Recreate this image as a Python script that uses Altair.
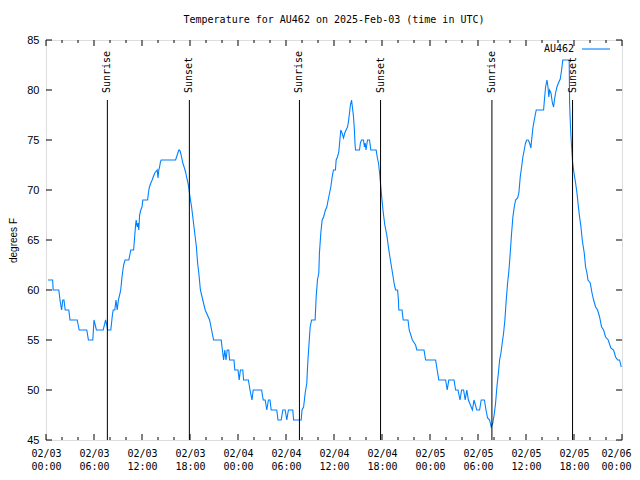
import altair as alt
import pandas as pd

title_text = "Temperature for AU462 on 2025-Feb-03 (time in UTC)"
series_name = "AU462"
y_title = "degrees F"

# hours since 02/03 00:00 UTC and temperature (deg F)
hours = [0.25, 0.83, 0.9, 1.6, 1.75, 1.95, 2.1, 2.25, 2.4, 2.85, 3.0, 3.9, 4.15, 5.1, 5.3, 5.85, 6.0, 6.15, 6.3, 7.15,
         7.45, 7.6, 7.7, 8.1, 8.3, 8.4, 8.6, 8.75, 8.9, 9.05, 9.2, 9.34, 9.5, 9.7, 9.88, 10.35, 10.6, 10.95, 11.1, 11.2,
         11.27, 11.4, 11.5, 11.6, 11.7, 11.85, 12.0, 12.1, 12.7, 12.8, 12.9, 13.1, 13.27, 13.4, 13.6, 13.9, 14.0, 14.1,
         14.2, 14.3, 14.4, 16.2, 16.4, 16.6, 16.7, 16.8, 16.95, 17.1, 17.3, 17.45, 17.6, 17.75, 17.85, 18.0, 18.2, 18.35,
         18.5, 18.65, 18.8, 18.95, 19.1, 19.3, 19.6, 19.9, 20.45, 20.7, 20.95, 21.9, 22.05, 22.2, 22.35, 22.5, 22.65,
         22.85, 22.95, 23.5, 23.6, 24.0, 24.15, 24.3, 24.6, 24.7, 25.3, 25.5, 25.75, 25.9, 26.95, 27.15, 27.4, 27.6,
         27.8, 28.0, 28.15, 28.85, 29.0, 29.4, 29.6, 29.9, 30.1, 30.3, 30.85, 30.95, 31.9,
         32.0, 32.2, 32.4, 32.6, 32.72, 32.85, 33.02, 33.2, 33.64, 33.77, 33.93, 34.1, 34.18, 34.35, 34.52, 34.7, 34.93,
         35.1, 35.27, 35.45, 35.6, 35.77, 35.93, 36.18, 36.27, 36.43, 36.6, 36.7, 36.85, 37.0, 37.19, 37.35, 37.5,
         37.69, 37.8, 37.94, 38.05, 38.19, 38.3, 38.44, 38.55, 38.62, 38.69, 39.19, 39.3, 39.44, 39.69, 39.8, 39.9,
         40.0, 40.19, 40.44, 40.6, 41.27, 41.4, 41.56, 41.7, 41.85, 42.0, 42.15, 42.35, 42.6, 42.8, 42.95, 43.15,
         43.35, 43.55, 43.7, 43.95, 44.05, 44.1, 44.5, 44.65, 45.25, 45.4, 45.8, 46.2, 46.35, 47.25, 47.45, 48.7, 48.9,
         49.1, 49.95, 50.15, 50.35, 51.0, 51.2, 51.5, 51.75, 51.95, 52.2, 52.4, 52.6, 52.8, 53.3, 53.5, 53.85, 54.2,
         54.4, 54.8, 55.0, 55.2, 55.45, 55.65, 55.85, 56.05, 56.2, 56.36, 56.55, 56.7, 56.87, 57.03, 57.2, 57.36,
         57.53, 57.7, 57.87, 58.03, 58.2, 58.36, 58.53, 58.7, 58.95, 59.11, 59.28, 59.45, 59.61, 59.78, 59.94, 60.1,
         60.28, 60.45, 60.61, 60.7, 60.86, 61.03, 61.28, 62.2, 62.3, 62.45, 62.62, 62.75, 62.85, 62.95, 63.12, 63.3,
         63.45, 63.55, 63.7, 63.87, 64.05, 64.28, 64.45, 64.6, 65.4, 65.45, 65.53, 65.6, 65.7, 65.82, 66.0, 66.2,
         66.37, 66.55, 66.7, 66.87, 67.03, 67.28, 67.45, 67.62, 67.75, 68.03, 68.25, 68.45, 68.7, 68.95, 69.2, 69.45,
         69.7, 69.95, 70.28, 70.6, 70.95, 71.2, 71.45, 71.7, 71.9]
temps = [61, 61, 60, 60, 59, 58, 59, 59, 58, 58, 57, 57, 56, 56, 55, 55, 57, 56.5, 56, 56,
         57, 56.5, 56, 56, 57.5, 58, 58, 59, 58, 59, 59.5, 60, 61.3, 62.5, 63, 63, 64, 64, 65.5, 66.5,
         67, 66.3, 66.7, 66, 67.5, 68, 68.3, 69, 69, 69.7, 70.2, 70.7, 71, 71.3, 71.7, 72, 71.2, 72,
         72.3, 72.8, 73, 73, 73.5, 74, 74, 73.8, 73.3, 72.7, 72.2, 71.8, 71.2, 70.7, 70.2, 69.3, 68.3, 67.3,
         66.3, 65.3, 64.3, 62.7, 61.7, 60, 59, 58, 57, 56, 55, 55, 54, 53, 54, 53, 54,
         54, 53, 53, 52, 52, 51, 52, 52, 51, 51, 50, 49, 50, 50, 49, 49, 48,
         49, 49, 48, 48, 47, 47, 48, 48, 47, 48, 48, 47, 47,
         48, 48.3, 49.7, 50.7, 52.7, 54.3, 56.3, 57, 57, 59.3, 61, 61.7, 63.7, 65.7, 67, 67.3, 68,
         68.3, 69, 69.7, 70.3, 71.3, 72, 72, 73, 73.3, 73.8, 74.7, 76, 75.7, 75.2, 75.7, 76,
         76.3, 76.8, 77.7, 78.5, 79, 78.3, 77.3, 76, 74.7, 74, 74, 74.7, 75, 75, 74.3, 74.7,
         74, 75, 75, 74, 74, 73.3, 72.7, 71.7, 70.3, 69, 67.8, 66.5, 65.5, 64.3, 63.5, 62.5,
         61.5, 60.5, 60, 60, 59, 58, 58, 57, 57, 56, 55, 54.5, 54, 54, 53, 53, 52,
         51, 51, 50, 51, 51, 50, 50, 49, 50, 50, 49, 50, 49, 48, 49, 48, 48,
         49, 49, 48, 47.2, 47, 46.3, 46.7, 47.7, 48.7, 50.3, 51.7, 53, 53.7, 54.7, 55.7, 57,
         59, 60.7, 62, 63.7, 65.7, 67.3, 68.3, 69, 69.2, 69.7, 71.3, 72.3, 73.3, 74, 74.7, 75,
         75, 74.7, 74.2, 75, 76.2, 77, 78, 78, 79, 80.3, 81, 80.3, 79.3, 80, 79.7, 78.7,
         78.3, 79, 79.7, 80.3, 80.7, 81.1, 82, 83, 83, 78.7, 77, 75.7, 74.3, 72.8, 71.7, 70.7,
         69.7, 68.3, 67.3, 66.3, 65, 63.7, 62.3, 61.7, 61, 60.7, 59.7, 59, 58.3, 58, 57.3, 56.3,
         56, 55.3, 55, 54.2, 54, 53.3, 53, 53, 52.3]

event_hours = [7.67, 17.92, 31.68, 41.82, 55.74, 65.82]
event_labels = ["Sunrise", "Sunset", "Sunrise", "Sunset", "Sunrise", "Sunset"]
event_top = 79.0
event_label_at = 79.7

x_major = list(range(0, 73, 6))
x_minor = [h for h in range(0, 73, 2) if h % 6 != 0]
y_major = list(range(45, 86, 5))
x_domain = [0, 72]
y_domain = [45, 85]

W, H = 576, 400
MONO = "DejaVu Sans Mono"
SANS = "Liberation Sans"
BLUE = "#0080ff"

df = pd.DataFrame({"h": hours, "t": temps})
ev = pd.DataFrame({"h": event_hours, "label": event_labels,
                   "t": [event_top] * len(event_hours), "bottom": [y_domain[0]] * len(event_hours),
                   "ly": [event_label_at] * len(event_hours)})
xmaj = pd.DataFrame({"h": x_major})
xmin = pd.DataFrame({"h": x_minor})
ymaj = pd.DataFrame({"t": y_major})
leg = pd.DataFrame({"label": [series_name]})

xs = alt.Scale(domain=x_domain, nice=False, zero=False)
ys = alt.Scale(domain=y_domain, nice=False, zero=False)

label_expr = ("['02/0' + (3 + floor(datum.value / 24)), "
              "((datum.value % 24) < 10 ? '0' : '') + (datum.value % 24) + ':00']")

x_axis = alt.Axis(values=x_major, labelExpr=label_expr, ticks=False, domain=False, grid=False,
                  labelFont=MONO, labelFontSize=10, labelPadding=8, labelLineHeight=13,
                  labelColor="black", labelAngle=0, labelFlush=False, labelOverlap=False,
                  labelBound=False, title=None,
                  labelOffset={"condition": {"test": f"datum.value == {x_domain[1]}", "value": -6},
                               "value": 0})
y_axis = alt.Axis(values=y_major, ticks=False, domain=False, grid=False,
                  labelFont=SANS, labelFontSize=11, labelPadding=7, labelColor="black",
                  title=y_title, titleFont=SANS, titleFontSize=10, titleFontWeight="normal",
                  titleColor="black", titleAngle=270, titleX=-33, titleY=200,
                  titleAlign="center", titleBaseline="middle")


def X(field="h"):
    return alt.X(f"{field}:Q", scale=xs, axis=x_axis)


def Y(field="t"):
    return alt.Y(f"{field}:Q", scale=ys, axis=y_axis)


line = alt.Chart(df).mark_line(color=BLUE, strokeWidth=1.1).encode(x=X(), y=Y())

ev_rules = alt.Chart(ev).mark_rule(color="black", strokeWidth=1).encode(
    x=X(), y=Y(), y2="bottom:Q")
ev_text = alt.Chart(ev).mark_text(angle=270, align="left", baseline="middle",
                                  font=MONO, fontSize=10, color="black").encode(
    x=X(), y=Y("ly"), text="label:N")


def xticks(frame, length):
    bottom = alt.Chart(frame).mark_rule(color="black").encode(
        x=X(), y=alt.value(H), y2=alt.value(H - length))
    top = alt.Chart(frame).mark_rule(color="black").encode(
        x=X(), y=alt.value(0), y2=alt.value(length))
    return [bottom, top]


def yticks(frame, length):
    left = alt.Chart(frame).mark_rule(color="black").encode(
        y=Y(), x=alt.value(0), x2=alt.value(length))
    right = alt.Chart(frame).mark_rule(color="black").encode(
        y=Y(), x=alt.value(W), x2=alt.value(W - length))
    return [left, right]


leg_text = alt.Chart(leg).mark_text(align="right", baseline="middle", font=MONO,
                                    fontSize=10, color="black").encode(
    x=alt.value(528), y=alt.value(9), text="label:N")
leg_line = alt.Chart(leg).mark_rule(color=BLUE, strokeWidth=1.1).encode(
    x=alt.value(536), x2=alt.value(564), y=alt.value(9))

layers = ([line, ev_rules, ev_text] + xticks(xmaj, 6) + xticks(xmin, 3)
          + yticks(ymaj, 6) + [leg_text, leg_line])

chart = alt.layer(*layers).properties(
    width=W, height=H,
    title=alt.TitleParams(title_text, font=MONO, fontSize=10, fontWeight="normal",
                          color="black", anchor="middle", offset=1, baseline="alphabetic"),
    autosize=alt.AutoSizeParams(type="none"),
    padding={"left": 38, "top": 32, "right": 10, "bottom": 32},
).configure_view(stroke="black", strokeWidth=1).configure(background="white")

chart.save("out.html", embed_options={"renderer": "svg", "actions": False})
